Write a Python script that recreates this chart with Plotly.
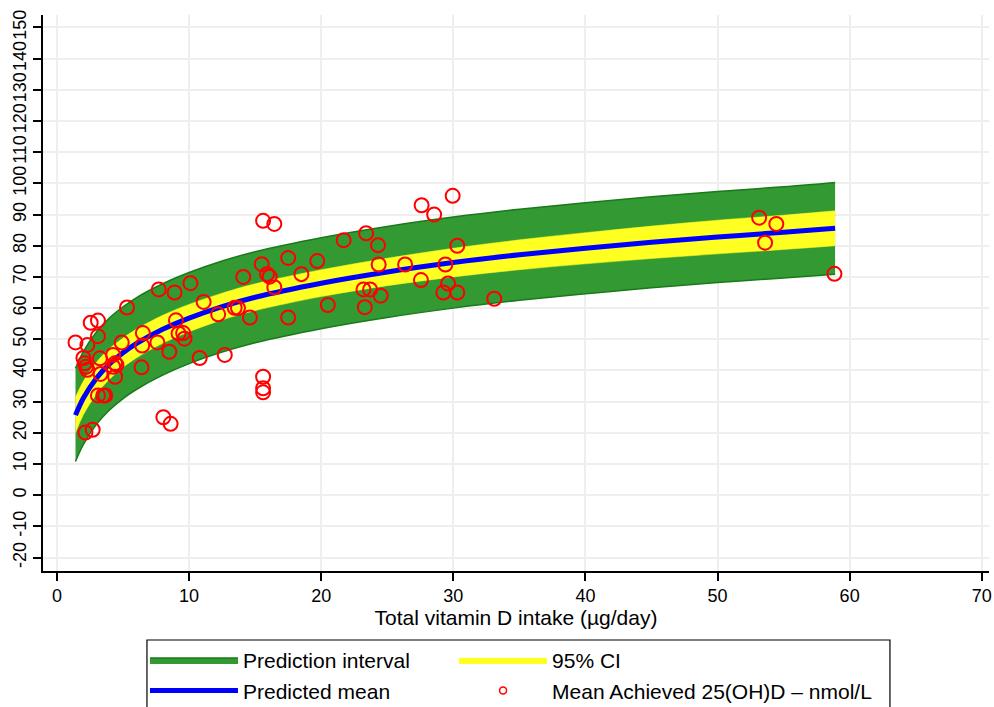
import plotly.graph_objects as go

# Fitted curve
fit_x = [1.4, 2, 3, 4, 5, 6, 8, 10, 12.5, 15, 20, 25, 30, 35, 40, 45, 50, 55, 58.9]
pred_mean = [25.7, 31.2, 37.6, 42.2, 45.7, 48.6, 53.2, 56.8, 60.5, 63.5, 68.0, 71.6, 74.6, 77.1, 79.2, 81.1, 82.8, 84.3, 85.6]
ci_hi = [31.4, 36.6, 42.7, 47.1, 50.4, 53.2, 57.7, 61.2, 64.8, 67.8, 72.3, 76.0, 79.2, 81.9, 84.2, 86.3, 88.2, 89.8, 91.2]
ci_lo = [20.0, 25.8, 32.5, 37.3, 41.0, 44.0, 48.7, 52.4, 56.2, 59.2, 63.7, 67.2, 70.0, 72.3, 74.2, 75.9, 77.4, 78.8, 80.0]
pi_hi = [40.7, 46.1, 52.4, 57.0, 60.4, 63.3, 67.8, 71.4, 75.1, 78.1, 82.6, 86.2, 89.2, 91.7, 93.8, 95.7, 97.4, 98.9, 100.3]
pi_lo = [10.8, 16.3, 22.8, 27.4, 31.0, 33.9, 38.5, 42.2, 45.9, 48.9, 53.4, 57.0, 60.0, 62.5, 64.6, 66.5, 68.2, 69.7, 70.9]

# Observed study means
intake = [1.4, 2.0, 2.1, 2.2, 2.3, 2.3, 2.55, 3.1, 3.1, 3.25, 3.3, 3.1, 3.5, 3.65, 2.15, 2.7,
          4.25, 4.4, 4.5, 4.25, 4.4, 4.9, 5.3, 6.5, 6.45, 6.4, 7.7, 7.6, 8.5, 8.9, 9.0, 9.2,
          9.55, 9.65, 8.05, 8.6, 10.1, 10.8, 11.1, 12.2, 12.7, 13.45, 13.7, 14.1, 14.6, 15.5,
          15.9, 16.1, 16.45, 15.6, 15.6, 15.6, 15.6, 16.45, 17.5, 17.5, 18.5, 19.7, 20.5, 21.7,
          23.4, 23.3, 23.2, 23.7, 24.3, 24.35, 24.5, 26.35, 27.55, 27.6, 28.55, 29.4, 29.6,
          29.25, 30.3, 30.3, 29.95, 33.1, 53.15, 54.45, 53.6, 58.85]
achieved = [49, 44, 42.3, 41.2, 40.2, 48.2, 55.3, 56, 51, 43.9, 38.9, 32, 32, 32, 20.1, 21,
            45, 42.3, 41.8, 41.2, 38, 49, 60.2, 52, 48, 41, 66, 49, 46, 65, 56.1, 51.9,
            52, 50.2, 25, 22.9, 68, 44, 62, 58, 45, 60.1, 60, 70, 57, 74.1,
            70.9, 70.1, 66.7, 38, 34.3, 33, 88, 87, 76.1, 57, 70.9, 75.1, 61, 81.8,
            84, 60.3, 66, 66, 80.2, 74, 64, 74, 69, 93, 90, 74, 67.9,
            65, 65, 80, 96, 63, 89, 87, 81, 71]

x_ticks = [0, 10, 20, 30, 40, 50, 60, 70]
y_ticks = [-20, -10, 0, 10, 20, 30, 40, 50, 60, 70, 80, 90, 100, 110, 120, 130, 140, 150]
y_tick_labels = [str(v) for v in y_ticks]

FONT = "Arial, Liberation Sans, sans-serif"

fig = go.Figure()

fig.add_trace(go.Scatter(x=fit_x, y=pi_lo, mode="lines", line=dict(color="#1a7a1a", width=1.5, shape="spline"),
                         showlegend=False, hoverinfo="skip"))
fig.add_trace(go.Scatter(x=fit_x, y=pi_hi, mode="lines", fill="tonexty", fillcolor="#339933",
                         line=dict(color="#1a7a1a", width=1.5, shape="spline"),
                         name="Prediction interval", legend="legend"))
fig.add_trace(go.Scatter(x=fit_x, y=ci_lo, mode="lines", line=dict(color="#ffff22", width=0.5, shape="spline"),
                         showlegend=False, hoverinfo="skip"))
fig.add_trace(go.Scatter(x=fit_x, y=ci_hi, mode="lines", fill="tonexty", fillcolor="#ffff22",
                         line=dict(color="#ffff22", width=0.5, shape="spline"),
                         name="95% CI", legend="legend2"))
fig.add_trace(go.Scatter(x=fit_x, y=pred_mean, mode="lines",
                         line=dict(color="#0000ff", width=5, shape="spline"),
                         name="Predicted mean", legend="legend"))
fig.add_trace(go.Scatter(x=intake, y=achieved, mode="markers",
                         marker=dict(symbol="circle-open", size=14, color="#ff0000",
                                     line=dict(width=2, color="#ff0000")),
                         showlegend=False, name="Mean Achieved 25(OH)D – nmol/L"))
fig.add_trace(go.Scatter(x=[None], y=[None], mode="markers",
                         marker=dict(symbol="circle-open", size=7, color="#ff0000",
                                     line=dict(width=1.5, color="#ff0000")),
                         name="Mean Achieved 25(OH)D – nmol/L", legend="legend2"))

leg_common = dict(orientation="v", y=-0.124, yanchor="top", xanchor="left",
                  borderwidth=0, bgcolor="rgba(0,0,0,0)", itemwidth=88,
                  font=dict(size=21, family=FONT), traceorder="normal", tracegroupgap=0)

fig.update_layout(
    width=994, height=707,
    margin=dict(l=43, r=5, t=15, b=136, autoexpand=False),
    paper_bgcolor="white", plot_bgcolor="white",
    font=dict(family=FONT, size=18, color="black"),
    xaxis=dict(range=[-1.06, 70.55], tickvals=x_ticks, showgrid=True, gridcolor="#eeeeee", gridwidth=2,
               showline=True, linecolor="black", linewidth=1.5, ticks="outside", ticklen=8,
               tickwidth=1.5, tickcolor="black", zeroline=False, automargin=False,
               tickfont=dict(size=18),
               title=dict(text="Total vitamin D intake (µg/day)", font=dict(size=21), standoff=0)),
    yaxis=dict(range=[-24.3, 154], tickvals=y_ticks, ticktext=y_tick_labels,
               showgrid=True, gridcolor="#eeeeee", gridwidth=2,
               showline=True, linecolor="black", linewidth=1.5, ticks="outside", ticklen=8,
               tickwidth=1.5, tickcolor="black", zeroline=False, tickangle=-90, automargin=False,
               tickfont=dict(size=18)),
    legend=dict(x=0.1078, **leg_common),
    legend2=dict(x=0.4345, **leg_common),
    shapes=[dict(type="rect", xref="paper", yref="paper", x0=0.1099, x1=0.8953,
                 y0=-0.1241, y1=-0.26, line=dict(color="black", width=1.2),
                 fillcolor="white", layer="below")],
)

fig.write_html("out.html")
